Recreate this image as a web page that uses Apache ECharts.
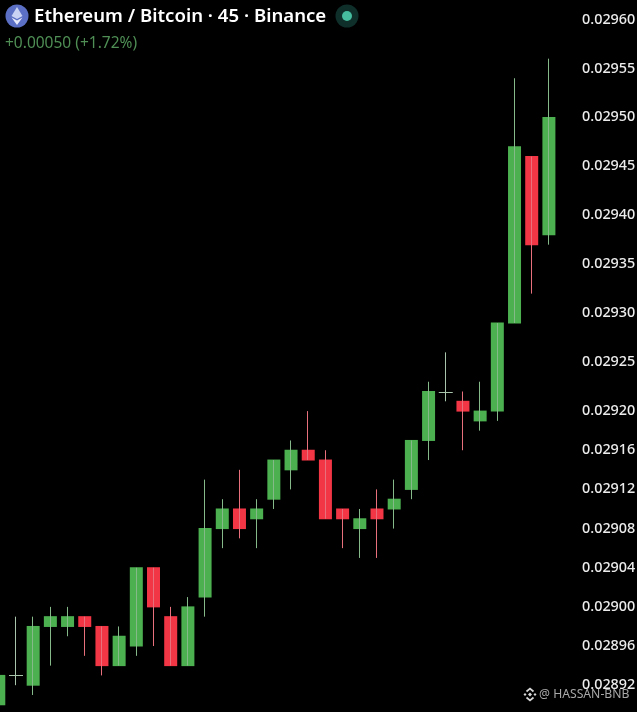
<!DOCTYPE html>
<html>
<head>
<meta charset="utf-8">
<style>html,body{margin:0;padding:0;background:#000}#c{width:637px;height:712px}</style>
<script src="https://cdn.jsdelivr.net/npm/echarts@6/dist/echarts.min.js"></script>
</head>
<body>
<div id="c"></div>
<script>
const opens  = [0.02890,0.02893,0.02892,0.02898,0.02898,0.02899,0.02898,0.02894,0.02896,0.02904,0.02899,0.02894,0.02901,0.02908,0.02910,0.02909,0.02911,0.02914,0.02916,0.02915,0.02910,0.02908,0.02910,0.02910,0.02912,0.02917,0.02922,0.02921,0.02919,0.02920,0.02929,0.02946,0.02938];
const closes = [0.02893,0.02893,0.02898,0.02899,0.02899,0.02898,0.02894,0.02897,0.02904,0.02900,0.02894,0.02900,0.02908,0.02910,0.02908,0.02910,0.02915,0.02916,0.02915,0.02909,0.02909,0.02909,0.02909,0.02911,0.02917,0.02922,0.02922,0.02920,0.02920,0.02929,0.02947,0.02937,0.02950];
const lows   = [0.02889,0.02892,0.02891,0.02894,0.02897,0.02895,0.02893,0.02894,0.02895,0.02896,0.02894,0.02894,0.02899,0.02906,0.02907,0.02906,0.02910,0.02912,0.02915,0.02909,0.02906,0.02905,0.02905,0.02908,0.02911,0.02915,0.02921,0.02916,0.02918,0.02919,0.02929,0.02932,0.02937];
const highs  = [0.02893,0.02899,0.02899,0.02900,0.02900,0.02899,0.02898,0.02898,0.02904,0.02904,0.02900,0.02901,0.02913,0.02911,0.02914,0.02911,0.02915,0.02917,0.02920,0.02916,0.02910,0.02910,0.02912,0.02913,0.02917,0.02923,0.02926,0.02922,0.02923,0.02929,0.02954,0.02946,0.02956];
const tickLabels = [0.02960,0.02955,0.02950,0.02945,0.02940,0.02935,0.02930,0.02925,0.02920,0.02916,0.02912,0.02908,0.02904,0.02900,0.02896,0.02892];
const categories = opens.map((_, i) => 'C' + (i + 1));
const candles = opens.map((o, i) => [o, closes[i], lows[i], highs[i]]);
const bodies = opens.map((o, i) => [i, o, closes[i]]);
const titleText = 'Ethereum / Bitcoin · 45 · Binance';
const changeText = '+0.00050 (+1.72%)';
const watermark = '@ HASSAN-BNB';

const chart = echarts.init(document.getElementById('c'), null, {renderer: 'canvas'});
const UP = '#4CAF50', DOWN = '#F23645', DOJI = '#a8c4aa';
chart.setOption({
  backgroundColor: '#000',
  animation: false,
  grid: {left: -9.8, width: 567.3, top: 1, height: 712, outerBoundsMode: 'none', containLabel: false},
  xAxis: {type: 'category', data: categories, show: false, boundaryGap: true},
  yAxis: {
    type: 'value', position: 'right', min: 0.0288916, max: 0.0296189, scale: true,
    axisLine: {show: false}, axisTick: {show: false}, splitLine: {show: false},
    axisLabel: {
      customValues: tickLabels, color: '#ececec', fontSize: 14.4, fontWeight: 500,
      fontFamily: '"Noto Sans"', margin: 24.5, align: 'left',
      formatter: v => v.toFixed(5)
    }
  },
  series: [{
    type: 'candlestick', data: candles, barWidth: 1,
    itemStyle: {
      color: UP, color0: DOWN, borderColor: '#86b98a', borderColor0: '#e8707c',
      borderColorDoji: DOJI, borderWidth: 1
    }
  }, {
    type: 'custom', data: bodies, encode: {x: 0, y: [1, 2]}, silent: true, clip: true,
    renderItem: (params, api) => {
      const o = api.value(1), c = api.value(2);
      const a = api.coord([api.value(0), o]), b = api.coord([api.value(0), c]);
      if (o === c) {
        return {type: 'rect', shape: {x: a[0] - 7, y: Math.round(a[1]), width: 14, height: 1}, style: {fill: DOJI}};
      }
      return {
        type: 'rect',
        shape: {x: a[0] - 6.5, y: Math.min(a[1], b[1]) - 0.5, width: 13, height: Math.abs(a[1] - b[1]) + 1},
        style: {fill: c > o ? UP : DOWN}
      };
    }
  }],
  graphic: [
    {type: 'circle', shape: {cx: 17, cy: 16, r: 11.5}, style: {fill: '#5b6fc4'}, z: 10},
    {type: 'polygon', shape: {points: [[17,7],[22.5,16],[17,19],[11.5,16]]}, style: {fill: '#c9d2f2'}, z: 11},
    {type: 'polygon', shape: {points: [[17,20.5],[22.5,17.5],[17,25],[11.5,17.5]]}, style: {fill: '#e6eafa'}, z: 11},
    {type: 'text', style: {x: 34, y: 17, text: titleText, fill: '#fff', font: '600 18.6px "Noto Sans"', verticalAlign: 'middle', align: 'left'}, z: 10},
    {type: 'text', style: {x: 5, y: 44, text: changeText, fill: '#4f8f55', font: '15.5px "Noto Sans"', verticalAlign: 'middle', align: 'left'}, z: 10},
    {type: 'circle', shape: {cx: 347, cy: 16, r: 11.5}, style: {fill: '#0f2f2b'}, z: 10},
    {type: 'circle', shape: {cx: 347, cy: 16, r: 5}, style: {fill: '#45bd9e'}, z: 11},
    {type: 'polygon', shape: {points: [[530,692.5],[532,694.5],[530,696.5],[528,694.5]]}, style: {fill: '#d8d8d8'}, z: 5},
    {type: 'polygon', shape: {points: [[525,693],[526.5,694.5],[525,696],[523.5,694.5]]}, style: {fill: '#d8d8d8'}, z: 5},
    {type: 'polygon', shape: {points: [[535,693],[536.5,694.5],[535,696],[533.5,694.5]]}, style: {fill: '#d8d8d8'}, z: 5},
    {type: 'polyline', shape: {points: [[526.5,691.5],[530,688.5],[533.5,691.5]]}, style: {fill: 'none', stroke: '#d8d8d8', lineWidth: 1.7}, z: 5},
    {type: 'polyline', shape: {points: [[526.5,697.5],[530,700.5],[533.5,697.5]]}, style: {fill: 'none', stroke: '#d8d8d8', lineWidth: 1.7}, z: 5},
    {type: 'text', style: {x: 539, y: 695, text: watermark, fill: '#a8a8a8', font: '12.2px "Noto Sans"', verticalAlign: 'middle', align: 'left'}, z: 5}
  ]
});
</script>
</body>
</html>
